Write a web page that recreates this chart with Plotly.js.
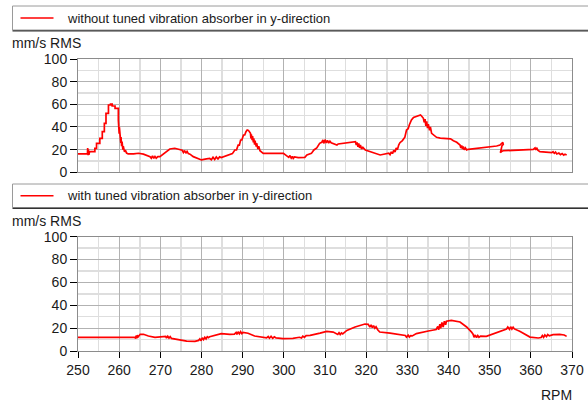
<!DOCTYPE html>
<html>
<head>
<meta charset="utf-8">
<script src="https://cdn.plot.ly/plotly-3.0.1.min.js"></script>
<style>html,body{margin:0;padding:0;background:#fff;}#chart{width:588px;height:405px;}</style>
</head>
<body>
<div id="chart"></div>
<script>
// ---- data ----
const seriesNames = [
  "without tuned vibration absorber in y-direction",
  "with tuned vibration absorber in y-direction"
];
const yUnit = "mm/s RMS";
const xUnit = "RPM";

const rpmWithout = [
250,252.3,252.35,252.45,252.55,252.65,252.8,253.1,254.1,254.1,254.5,254.5,255.3,255.3,255.9,255.9,256.4,256.4,256.8,256.8,257.4,257.4,257.9,257.9,258.3,258.3,259.0,259.0,259.8,259.8,
259.85,259.9,260.0,260.05,260.2,260.25,260.4,260.45,260.6,260.7,260.9,261.0,261.3,261.5,261.8,262.2,
263.5,264.7,265.9,266.8,267.5,267.8,268.1,268.4,268.7,269.0,269.4,269.9,270.5,271.1,272.3,273.5,274.8,275.3,275.6,275.9,276.2,276.5,276.8,277.2,278,279,280,281.2,282.0,282.4,282.8,283.2,283.6,284.0,284.4,284.8,285.5,286.9,287.5,288.1,288.5,288.9,289.2,289.5,289.8,290.2,290.5,290.8,291.1,291.4,291.7,291.9,292.0,292.1,292.3,292.4,292.6,292.7,292.9,293.0,293.3,293.4,293.7,293.9,294.2,294.6,295.0,
299.9,300.7,301.2,301.5,301.8,302.1,302.3,302.6,303.5,305.1,305.6,306.7,307.3,308.0,308.7,309.2,309.5,309.7,310.0,310.3,310.6,310.9,311.2,311.5,312.9,313.2,314.5,316,317.4,317.6,317.8,318.0,318.2,318.4,318.6,318.9,319.2,319.8,321.4,323.4,325.5,325.8,326.1,326.4,326.7,327.0,327.3,327.6,327.9,328.2,328.8,329.1,329.4,329.8,330.2,330.5,331.0,331.5,332.3,333.2,333.5,333.9,334.1,334.3,334.5,334.7,334.9,335.1,335.4,335.6,335.9,336.4,337.1,338.0,339.6,340.5,341.2,342.0,342.8,343.0,343.2,343.4,343.6,343.8,344.1,344.4,344.8,346.5,348.4,350.0,351.7,352.5,352.9,353.2,353.3,353.0,352.6,352.9,353.3,356.6,358.5,360.6,361.0,361.2,361.4,361.7,362.2,363.5,364.5,365.1,365.4,365.7,366.0,366.3,366.8,367.2,367.6,368.0,368.3,368.7
];
const velWithout = [
16.2,16.2,21.5,15.2,20,15.5,18,18.2,18.2,21.2,21.2,25.6,25.6,30,30,35.9,35.9,43.2,43.2,52,52,59.4,59.4,60.3,60.3,58.5,58.5,56.5,56.5,46,
38,44,34,40,30,35,26,31,23,27,20,23,18,19.5,17,16.2,
16.2,16.8,16,14.5,13.8,12.5,14.5,12.3,14,12.5,13.8,13.8,15.5,17.6,20.6,21.2,19.7,19.5,17.5,19.2,16.8,18.5,16.5,16,13.8,12,10.9,11.8,12.2,11,13.2,11.3,13.5,11.8,13.6,13,13.8,15.3,16.5,19.7,19.7,24,24,28.5,28.5,32.9,32.9,35.9,37.3,37,35,34.4,30,33.5,28.5,32,26.5,30,24.5,28,22.6,25.6,20.5,23,19,18.2,16.7,
16.7,14.4,13.2,14.8,12.5,14,12.3,13.5,13,13.2,15.3,16.7,19.7,21.5,25.6,26.5,28.5,25.5,28.8,26,28.3,25.8,27.5,26.1,24,25,25.6,26.3,27,24,26.5,22.5,25.5,21.5,24,20.5,22,19.7,17.6,15.3,16.8,15.5,18,16.5,19.5,18,21.5,20,24,26.1,28,30,31,37.3,38.5,42,46.2,48.5,49.7,50.6,49.5,47.7,44,47,41,45,39,42.5,37,40,34.4,33,30.9,30.2,30,29.5,27.9,26.5,24.1,21.5,23.8,20.5,22.8,19.8,21.5,19.8,20.3,21,21.7,22.3,23.2,24,25.6,26.5,24.5,23.5,17.3,18.5,19,19.7,19.5,20.3,21.5,19.8,21.7,19.5,18.2,18,17.8,17.3,18.2,16.8,17.8,16.2,17,15.6,16.5,15.2,16,15.3
];

const rpmWith = [
250,263.9,264.0,264.1,264.25,264.4,264.6,265.1,265.9,267.1,268.7,270.7,271.3,271.5,271.8,272.1,272.4,272.7,273.1,274.8,276.4,278.4,279.3,279.6,279.9,280.2,280.5,280.8,281.1,281.4,281.7,282.0,283.6,284.8,286.9,288.0,288.4,288.6,288.9,289.2,289.5,289.8,290.1,291.3,292.9,294.9,295.8,296.2,296.5,296.9,297.3,297.7,298.1,299.8,302.2,303.8,304.3,304.6,305.0,305.4,306.4,308.8,310.4,312.0,312.8,313.1,313.4,313.7,314.0,314.3,315.3,317.3,319.7,320.5,320.9,321.2,321.5,321.8,322.1,322.4,322.8,323.3,325.8,328.2,329.5,329.8,330.2,330.5,330.8,331.2,332.2,335.1,337.0,337.4,337.6,337.9,338.1,338.4,338.7,339.0,339.3,339.5,340.7,342.8,344.4,345.6,346.0,346.2,346.5,346.8,347.1,347.4,347.8,349.2,352.1,354.1,354.4,354.8,355.1,355.4,355.7,356.0,357.3,359.8,361.8,362.5,362.8,363.1,363.4,363.8,364.1,364.5,365.4,367.0,368.1,368.7
];
const velWith = [
12,12,10.8,13.5,11,13.8,12.3,14.6,14.6,13.1,12,12.2,12.8,11.3,12.9,11.3,12.6,11,10.8,9.6,8.7,8.5,9.3,10.6,9,11.5,10,12,10.6,12.5,11.6,12.5,13.7,15.2,14.6,14.8,16.2,14.6,16.8,15,16.9,15.2,16.3,15.5,13.1,12,11.5,12.7,11.2,12.8,11.2,12.4,11.4,10.8,11.1,12,11.4,13,12,13.4,13.7,15.7,17.2,16.6,15.5,14.5,16,14.4,15.8,15,18,21,23.6,23.3,20.9,22.9,20.5,22.2,19.9,21.2,18.6,16.6,15.7,14.6,13.6,12.2,13.8,12.2,13.5,13.2,15.2,17.5,18.8,21.5,18.6,23.5,19.8,25,21,26,23,26,26.8,25.4,21,16.6,14.5,12,14,11.8,13.6,12,13,12.8,16.6,19.2,21,19,21.2,19.2,20.8,19.3,17.2,12.2,11.4,11.8,13.6,12,14,12.6,14.4,13.2,14.3,14.6,14,12.8
];

const xRange = [250, 370];
const yRange = [0, 100];

// ---- layout helpers (pixel -> paper) ----
const W = 588, H = 405;
const M = {l: 78, r: 16, t: 59, b: 54};
const PW = W - M.l - M.r, PH = H - M.t - M.b;
const px = x => (x - M.l) / PW;
const py = y => (H - M.b - y) / PH;

const FONT = "Liberation Sans, Arial, sans-serif";
const TXT = "#1a1a1a";
const RED = "#ff0000";
const GRID = "#b2b2b2", MINOR = "#dedede", FRAME = "#8c8c8c";

const traces = [
  {x: rpmWithout, y: velWithout, xaxis: "x", yaxis: "y", mode: "lines",
   line: {color: RED, width: 1.7}, name: seriesNames[0], showlegend: false, hoverinfo: "skip"},
  {x: rpmWith, y: velWith, xaxis: "x2", yaxis: "y2", mode: "lines",
   line: {color: RED, width: 1.7}, name: seriesNames[1], showlegend: false, hoverinfo: "skip"}
];

function xax(showLabels, anchor) {
  return {
    anchor: anchor, domain: [0, 1], range: xRange, dtick: 10, tick0: 250,
    showticklabels: showLabels, ticks: showLabels ? "outside" : "", ticklen: 6, tickwidth: 1, tickcolor: "#000",
    tickfont: {family: FONT, size: 14, color: TXT},
    showgrid: true, gridcolor: GRID, gridwidth: 1,
    minor: {dtick: 5, tick0: 250, showgrid: true, gridcolor: MINOR, gridwidth: 1.5, ticks: ""},
    showline: true, linecolor: FRAME, linewidth: 1, mirror: true, zeroline: false, fixedrange: true
  };
}
function yax(domain, anchor) {
  return {
    anchor: anchor, domain: domain, range: yRange, dtick: 20, tick0: 0,
    ticks: "outside", ticklen: 7, tickwidth: 1, tickcolor: "#000",
    tickfont: {family: FONT, size: 14, color: TXT},
    showgrid: true, gridcolor: GRID, gridwidth: 1,
    minor: {dtick: 10, tick0: 0, showgrid: true, gridcolor: MINOR, gridwidth: 1.5, ticks: ""},
    showline: true, linecolor: FRAME, linewidth: 1, mirror: true, zeroline: false, fixedrange: true
  };
}

const shapes = [], annotations = [];
function legendBox(top, bottom, name) {
  shapes.push({type: "rect", xref: "paper", yref: "paper",
    x0: px(12.5), x1: px(600), y0: py(bottom), y1: py(top),
    line: {color: "#9a9a9a", width: 1}, fillcolor: "rgba(0,0,0,0)"});
  shapes.push({type: "line", xref: "paper", yref: "paper",
    x0: px(12.5), x1: px(600), y0: py(bottom + 0.8), y1: py(bottom + 0.8),
    line: {color: "#333", width: 1.2}});
  const cy = (top + bottom) / 2;
  shapes.push({type: "line", xref: "paper", yref: "paper",
    x0: px(20.5), x1: px(53.5), y0: py(cy), y1: py(cy),
    line: {color: RED, width: 1.5}});
  annotations.push({xref: "paper", yref: "paper", x: px(66), y: py(cy),
    xanchor: "left", yanchor: "middle", showarrow: false, text: name, borderpad: 0,
    font: {family: FONT, size: 13, color: TXT}});
}
legendBox(6, 30, seriesNames[0]);
legendBox(184, 207.5, seriesNames[1]);

annotations.push({xref: "paper", yref: "paper", x: px(11), y: py(43.5), xanchor: "left", yanchor: "middle",
  showarrow: false, text: yUnit, borderpad: 0, font: {family: FONT, size: 14, color: TXT}});
annotations.push({xref: "paper", yref: "paper", x: px(11), y: py(221), xanchor: "left", yanchor: "middle",
  showarrow: false, text: yUnit, borderpad: 0, font: {family: FONT, size: 14, color: TXT}});
annotations.push({xref: "paper", yref: "paper", x: px(573), y: py(394.5), xanchor: "right", yanchor: "middle",
  showarrow: false, text: xUnit, borderpad: 0, font: {family: FONT, size: 14, color: TXT}});

const layout = {
  width: W, height: H, margin: M,
  paper_bgcolor: "#fff", plot_bgcolor: "#fff",
  font: {family: FONT, size: 14, color: TXT},
  showlegend: false,
  xaxis: xax(false, "y"),
  yaxis: yax([py(172.3), 1], "x"),
  xaxis2: xax(true, "y2"),
  yaxis2: yax([0, py(236.7)], "x2"),
  shapes: shapes,
  annotations: annotations
};

Plotly.newPlot("chart", traces, layout, {staticPlot: true, displayModeBar: false});
</script>
</body>
</html>
